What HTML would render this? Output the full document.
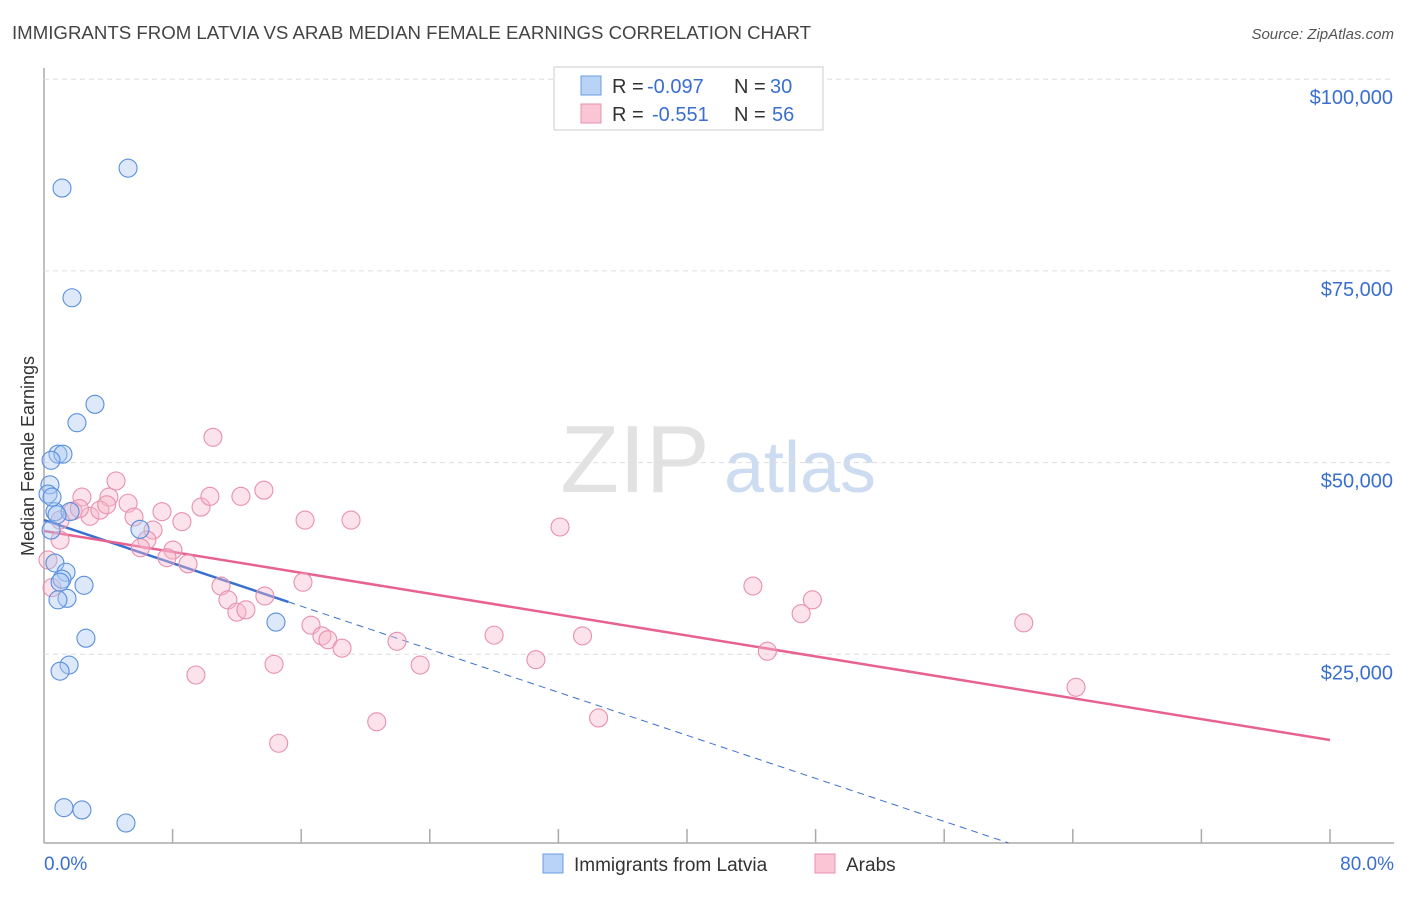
<!DOCTYPE html>
<html><head><meta charset="utf-8"><style>
body{margin:0;background:#fff;font-family:"Liberation Sans",sans-serif;}
svg text{font-family:"Liberation Sans",sans-serif;}
</style></head><body>
<svg width="1406" height="892" id="c">
<text x="12" y="39" font-size="18" fill="#444" textLength="799" lengthAdjust="spacingAndGlyphs">IMMIGRANTS FROM LATVIA VS ARAB MEDIAN FEMALE EARNINGS CORRELATION CHART</text>
<text x="1394" y="39" font-size="15" fill="#555" text-anchor="end" font-style="italic">Source: ZipAtlas.com</text>
<text x="34" y="456" font-size="18" fill="#333" text-anchor="middle" transform="rotate(-90 34 456)">Median Female Earnings</text>
<g><text x="635" y="492" font-size="96" fill="#e2e2e2" font-family="Liberation Serif" text-anchor="middle">ZIP</text><text x="800" y="492" font-size="72" fill="#cddcf0" text-anchor="middle">atlas</text></g>
<g id="grid"></g><g id="lines"></g><g id="pts"></g>
<g>
<rect x="554" y="67" width="269" height="63" fill="#fff" stroke="#ccc"/>
<rect x="581" y="76" width="20" height="19" fill="#b8d3f5" stroke="#6a9ee0"/>
<rect x="581" y="104" width="20" height="19" fill="#fac6d6" stroke="#e890ae"/>
<text x="612" y="93" font-size="20" fill="#333">R =</text>
<text x="647" y="93" font-size="20" fill="#3a6fd0">-0.097</text>
<text x="734" y="93" font-size="20" fill="#333">N =</text>
<text x="770" y="93" font-size="20" fill="#3a6fd0">30</text>
<text x="612" y="121" font-size="20" fill="#333">R =</text>
<text x="652" y="121" font-size="20" fill="#3a6fd0">-0.551</text>
<text x="734" y="121" font-size="20" fill="#333">N =</text>
<text x="772" y="121" font-size="20" fill="#3a6fd0">56</text>
</g>
<g>
<rect x="543" y="854" width="20" height="19" fill="#b8d3f5" stroke="#6a9ee0"/>
<text x="574" y="871" font-size="19" fill="#333">Immigrants from Latvia</text>
<rect x="815" y="854" width="20" height="19" fill="#fac6d6" stroke="#e890ae"/>
<text x="846" y="871" font-size="19" fill="#333">Arabs</text>
</g>
</svg>
<script>
const yTicks=[25000,50000,75000,100000];
const yTickLabels=["$25,000","$50,000","$75,000","$100,000"];
const xTickLabels=["0.0%","80.0%"];
const blueX=[1.12,5.23,1.74,3.17,2.05,0.87,1.18,0.44,0.37,0.25,0.68,1.62,0.44,5.97,0.68,1.37,1.12,1.0,2.49,1.43,0.87,2.61,1.56,1.0,14.43,1.24,2.36,5.1,0.5,0.81];
const blueY=[85800,88400,71500,57600,55200,51100,51100,50300,47100,45900,43600,43600,41200,41300,36900,35700,34800,34400,34000,32300,32100,27100,23600,22800,29200,5000,4700,3000,45500,43200];
const pinkX=[10.51,4.48,2.36,4.04,5.23,1.8,2.86,7.34,5.6,9.77,10.32,12.25,13.68,8.58,16.24,19.1,32.1,6.78,6.4,1.0,6.0,8.02,7.65,8.96,11.01,16.11,13.74,11.44,12.0,12.56,16.61,17.29,17.66,18.54,21.96,23.4,28.0,30.6,33.5,14.31,9.45,20.7,34.5,14.6,44.1,47.8,47.1,45.0,60.95,64.2,0.5,0.25,3.48,1.0,3.9,2.2];
const pinkY=[53300,47600,45500,45500,44700,43700,43000,43600,42900,44200,45600,45600,46400,42300,42500,42500,41600,41200,39900,39900,38900,38600,37600,36800,33900,34400,32600,32100,30500,30800,28800,27400,26900,25800,26700,23600,27500,24300,27400,23700,22300,16200,16700,13400,33900,32100,30300,25400,29100,20700,33700,37300,43800,42500,44500,44000];
const blueTrend=[42500,-701.7], pinkTrend=[41080,-340.7];
const X=v=>44+v/80*1286, Y=v=>846-v/25000*191.7;
const NS="http://www.w3.org/2000/svg";
function mk(t,a,p){const e=document.createElementNS(NS,t);for(const k in a)e.setAttribute(k,a[k]);p.appendChild(e);return e;}
const g=document.getElementById('grid'),L=document.getElementById('lines'),P=document.getElementById('pts');
let ax=mk('line',{x1:44,y1:68,x2:44,y2:843,stroke:'#aaa','stroke-width':1.5},g);

let bx=mk('line',{x1:44,y1:843,x2:1394,y2:843,stroke:'#aaa','stroke-width':1.5},g);

for(let i=1;i<=10;i++){const t=mk('line',{x1:X(i*8),y1:829,x2:X(i*8),y2:843,stroke:'#aaa','stroke-width':1.5},g);}
yTicks.forEach((v,i)=>{const l=mk('line',{x1:44,y1:Y(v),x2:1394,y2:Y(v),stroke:'#ddd','stroke-dasharray':'5,4'},g);

const t=mk('text',{x:1393,y:Y(v)+25,'font-size':20,fill:'#3a6fd0','text-anchor':'end'},g);t.textContent=yTickLabels[i];
});
[[0,'start',44],[80,'end',1394]].forEach((o,i)=>{const t=mk('text',{x:o[2],y:870,'font-size':19,fill:'#3a6fd0','text-anchor':o[1]},g);t.textContent=xTickLabels[i];
});
function pts(xs,ys,f,s,n){xs.forEach((x,i)=>{const c=mk('circle',{cx:X(x),cy:Y(ys[i]),r:9,fill:f,'fill-opacity':0.4,stroke:s,'stroke-width':1.1},P);
});}
pts(pinkX,pinkY,'#f7b6cb','#e890ae','arab-point');
pts(blueX,blueY,'#a9c9f2','#5a8fdc','latvia-point');
let l1=mk('line',{x1:X(0),y1:Y(blueTrend[0]),x2:X(15.2),y2:Y(blueTrend[0]+blueTrend[1]*15.2),stroke:'#3a70d0','stroke-width':2.5},L);

let l2=mk('line',{x1:X(15.2),y1:Y(blueTrend[0]+blueTrend[1]*15.2),x2:X(60),y2:Y(blueTrend[0]+blueTrend[1]*60),stroke:'#3a70d0','stroke-width':1,'stroke-dasharray':'7,5'},L);

let l3=mk('line',{x1:X(0),y1:Y(pinkTrend[0]),x2:X(80),y2:Y(pinkTrend[0]+pinkTrend[1]*80),stroke:'#e8628f','stroke-width':2.5},L);

</script>
</body></html>
